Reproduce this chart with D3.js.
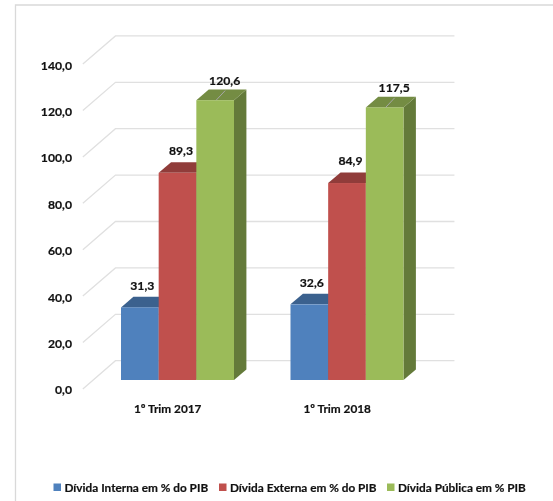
<!DOCTYPE html>
<html><head><meta charset="utf-8">
<script src="https://cdn.jsdelivr.net/npm/d3@7/dist/d3.min.js"></script>
<style>
html,body{margin:0;padding:0;background:#fff;overflow:hidden}
svg{display:block;filter:blur(0.35px)}
text{font-family:Lato,"Liberation Sans",sans-serif;font-weight:700;fill:#111;stroke:#111;stroke-width:0.2px}
</style></head><body>
<svg id="c" width="553" height="501"></svg>
<script>
const categories = ["1º Trim 2017", "1º Trim 2018"];
const seriesNames = ["Dívida Interna em % do PIB", "Dívida Externa em % do PIB", "Dívida Pública em % PIB"];
const serie1 = [31.3, 32.6];
const serie2 = [89.3, 84.9];
const serie3 = [120.6, 117.5];
const yTicks = [0, 20, 40, 60, 80, 100, 120, 140];
const frontColors = ["#4f81bd", "#c0504d", "#9bbb59"];
const topColors = ["#3b618e", "#903c3a", "#748c43"];
const sideColors = ["#2f4e72", "#753130", "#647a3a"];

const svg = d3.select("#c");
const fmt = v => v.toFixed(1).replace(".", ",");
const allSeries = [serie1, serie2, serie3];

// Scales on the bars' plane
const plotL = 92.75, plotR = 431.75;
const x0 = d3.scaleBand().domain(categories).range([plotL, plotR]).paddingInner(0.3333).paddingOuter(0.1667);
const x1 = d3.scaleBand().domain(d3.range(3)).range([0, x0.bandwidth()]);
const y = d3.scaleLinear().domain([0, 140]).range([380, 55.2]);
const depthX = 12.4, depthY = 10.6;      // bar depth
const wallX = 22.7, wallY = 19.3;        // offset, bar plane -> back wall
const frontX = -9.9, frontY = 8.9;       // offset, bar plane -> front of floor

// Chart frame
svg.append("path").attr("d", "M15.5,501V5H553").attr("fill", "none").attr("stroke", "#d9d9d9").attr("stroke-width", 1.3);

// Gridlines: left wall diagonal + back wall
const grid = svg.append("g").attr("fill", "none").attr("stroke", "#e0e0e0").attr("stroke-width", 1.3);
yTicks.forEach(t => {
  const yy = y(t);
  grid.append("path").attr("d", `M${plotL + frontX},${yy + frontY}L${plotL + wallX},${yy - wallY}H${plotR + wallX}`);
});

// Y labels
svg.append("g").selectAll("text").data(yTicks).join("text")
  .attr("x", 72).attr("y", d => y(d) + frontY + 5.5)
  .attr("text-anchor", "end").attr("font-size", 12.2).text(fmt);

// Bars, painted left to right
const g = svg.append("g");
categories.forEach((c, i) => {
  allSeries.forEach((s, k) => {
    const v = s[i];
    const l = x0(c) + x1(k), w = x1.bandwidth(), r = l + w, t = y(v), b = y(0);
    const bar = g.append("g");
    bar.append("path").attr("fill", sideColors[k])
      .attr("d", `M${r},${t}l${depthX},${-depthY}V${b - depthY}L${r},${b}Z`);
    bar.append("path").attr("fill", topColors[k])
      .attr("d", `M${l},${t}l${depthX},${-depthY}H${r + depthX}L${r},${t}Z`);
    bar.append("rect").attr("x", l).attr("y", t).attr("width", w).attr("height", b - t).attr("fill", frontColors[k]);
  });
});

// Data labels
const labelDx = [2.5, 3.5, 9.5];
const labelDy = [-17.2, -18, -15.7];
const labels = svg.append("g");
categories.forEach((c, i) => {
  allSeries.forEach((s, k) => {
    const cx = x0(c) + x1(k) + x1.bandwidth() / 2 + labelDx[k];
    const t = y(s[i]);
    if (k === 2) {
      labels.append("line").attr("x1", cx - 8.5).attr("y1", t).attr("x2", cx + 0.5).attr("y2", t - depthY + 1)
        .attr("stroke", "#a6a6a6").attr("stroke-width", 1);
    }
    labels.append("text").attr("x", cx).attr("y", t + labelDy[k]).attr("text-anchor", "middle")
      .attr("font-size", 12.2).text(fmt(s[i]));
  });
});

// Category labels
svg.append("g").selectAll("text").data(categories).join("text")
  .attr("x", d => x0(d) + x0.bandwidth() / 2 - 9.8).attr("y", 413).attr("text-anchor", "middle")
  .attr("font-size", 11.8).text(d => d);

// Legend
const legendX = [53.5, 219, 387];
const lg = svg.append("g");
seriesNames.forEach((n, k) => {
  lg.append("rect").attr("x", legendX[k]).attr("y", 483.5).attr("width", 7.5).attr("height", 7.5).attr("fill", frontColors[k]);
  lg.append("text").attr("x", legendX[k] + 11).attr("y", 492).attr("font-size", 11.8).text(n);
});
</script>
</body></html>
